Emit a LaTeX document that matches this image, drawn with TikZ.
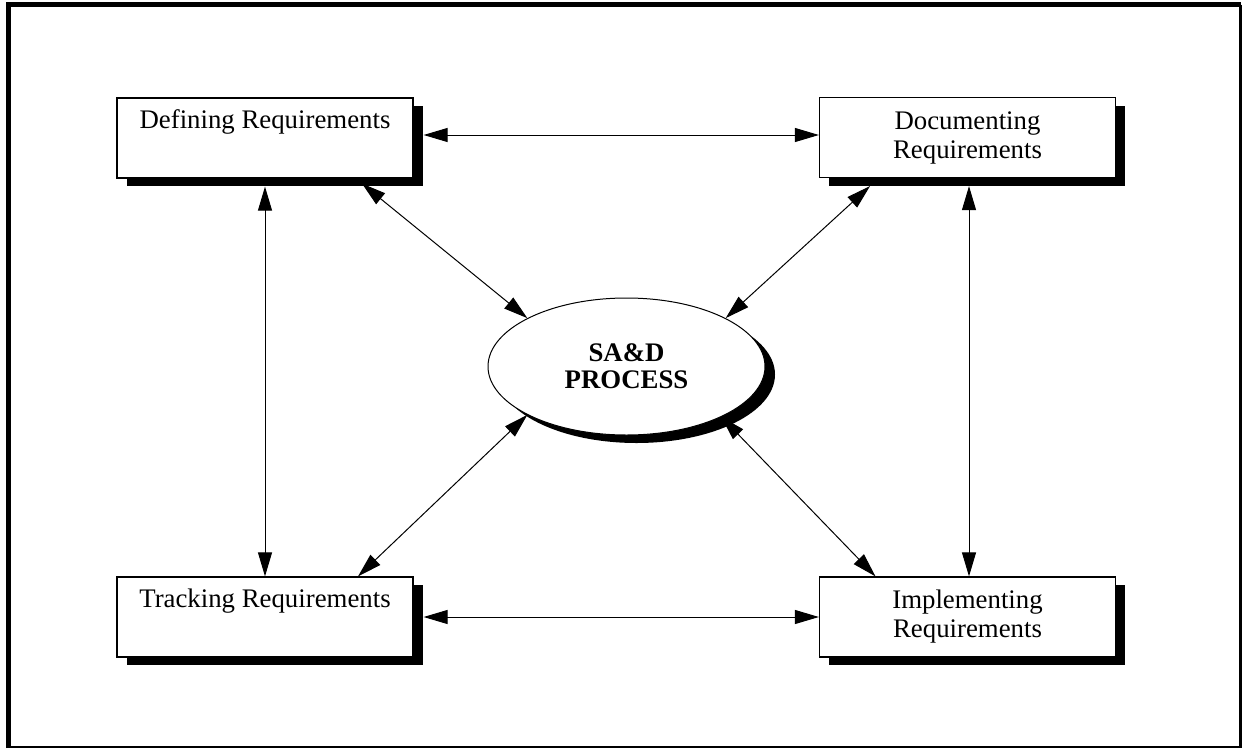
\documentclass[tikz,border=0pt]{standalone}
\usepackage{fontspec}
\setmainfont{Liberation Serif}
\usetikzlibrary{arrows.meta,shadows,calc,shapes.geometric}
\begin{document}
\begin{tikzpicture}[x=0.5pt,y=-0.5pt,
  box/.style={draw=black,line width=0.6pt,fill=white,minimum width=148pt,minimum height=40pt,
    inner sep=0pt,align=center,font=\fontsize{13.4}{14.5}\selectfont,
    drop shadow={shadow xshift=4.75pt,shadow yshift=-4pt,fill=black,opacity=1}},
  proc/.style={ellipse,draw=black,line width=0.5pt,fill=white,minimum width=138.5pt,minimum height=68.5pt,
    inner sep=0pt,align=center,font=\fontsize{13.4}{13.6}\selectfont\bfseries,
    drop shadow={shadow xshift=5pt,shadow yshift=-4pt,fill=black,opacity=1}},
  arr/.style={line width=0.5pt,{Triangle[length=12pt,width=7pt]}-{Triangle[length=12pt,width=7pt]}}
]
\useasboundingbox (0,0) rectangle (1242,750);
% frame
\draw[line width=2.5pt] (8.5,748) -- (8.5,4.5) -- (1241,4.5);
\draw[line width=1.2pt] (1240.5,4.5) -- (1240.5,747) -- (8.5,747);
% nodes
\node[box] (def) at (265,138) {Defining Requirements\\ \strut};
\node[box] (doc) at (967.5,137.5) {Documenting\\Requirements};
\node[box] (trk) at (265,617) {Tracking Requirements\\ \strut};
\node[box] (imp) at (967.5,617) {Implementing\\Requirements};
\node[proc] (sad) at (626.5,366.5) {SA\&D\\PROCESS};
% connectors
\draw[arr] ([xshift=5pt,yshift=1.5pt]def.east) -- ([yshift=1.25pt]doc.west);
\draw[arr] ([xshift=5pt]trk.east) -- (imp.west);
\draw[arr] ([yshift=-4pt]def.south) -- (trk.north);
\draw[arr] ([xshift=0.75pt,yshift=-4pt]doc.south) -- ([xshift=0.75pt]imp.north);
\draw[arr] ([xshift=48.5pt,yshift=-2.5pt]def.south) -- (sad.154);
\draw[arr] ([xshift=-48.75pt,yshift=-4pt]doc.south) -- (sad.26);
\draw[arr] ([xshift=46.5pt]trk.north) -- (sad.206);
\draw[arr] ([xshift=-46pt]imp.north) -- (sad.332);
\end{tikzpicture}
\end{document}
